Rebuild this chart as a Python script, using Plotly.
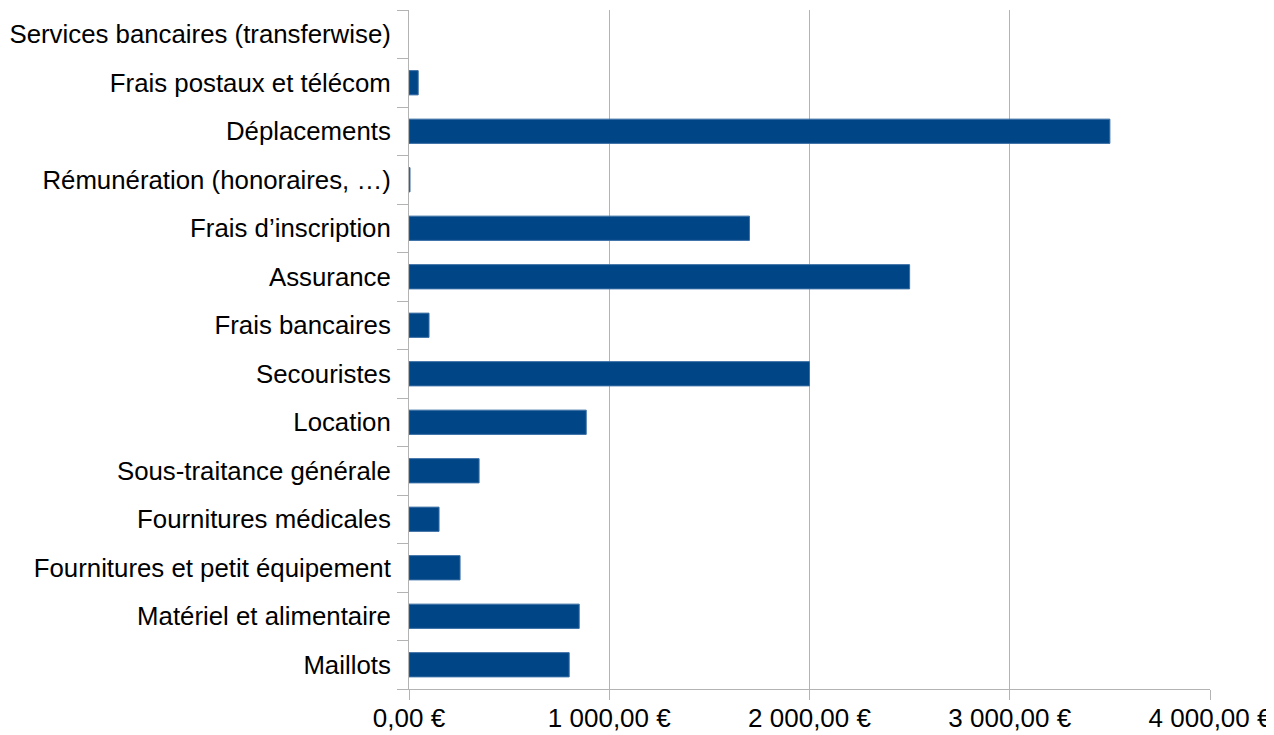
import plotly.graph_objects as go

categories = [
    "Maillots",
    "Matériel et alimentaire",
    "Fournitures et petit équipement",
    "Fournitures médicales",
    "Sous-traitance générale",
    "Location",
    "Secouristes",
    "Frais bancaires",
    "Assurance",
    "Frais d’inscription",
    "Rémunération (honoraires, …)",
    "Déplacements",
    "Frais postaux et télécom",
    "Services bancaires (transferwise)",
]
values = [800, 850, 255, 150, 350, 885, 2000, 100, 2500, 1700, 5, 3500, 46, 0]
x_ticks = [0, 1000, 2000, 3000, 4000]


def fmt_eur(v):
    s = f"{v:,.2f}".replace(",", " ").replace(".", ",")
    return s + " €"


x_ticktext = [fmt_eur(v) for v in x_ticks]
outline_widths = [1 if v > 0 else 0 for v in values]

fig = go.Figure(go.Bar(
    x=values,
    y=categories,
    orientation="h",
    marker=dict(color="#004586", line=dict(color="#3a6ea5", width=outline_widths)),
))

fig.update_layout(
    width=1266,
    height=727,
    margin=dict(l=401, r=64, t=2, b=46),
    plot_bgcolor="white",
    paper_bgcolor="white",
    bargap=0.5,
    showlegend=False,
    font=dict(family="Liberation Sans, Arial, sans-serif", size=26, color="#000000"),
)
fig.update_xaxes(
    range=[0, 4000],
    tickvals=x_ticks,
    ticktext=x_ticktext,
    showgrid=True,
    gridcolor="#b3b3b3",
    gridwidth=1,
    ticks="outside",
    ticklen=10,
    tickcolor="#b3b3b3",
    showline=True,
    linecolor="#b3b3b3",
    linewidth=1,
    zeroline=False,
    automargin=False,
    ticklabelstandoff=-4,
    tickfont=dict(size=26),
)
fig.update_yaxes(
    categoryorder="array",
    categoryarray=categories,
    showgrid=False,
    ticks="outside",
    tickson="boundaries",
    ticklen=11,
    tickcolor="#b3b3b3",
    showline=True,
    linecolor="#b3b3b3",
    linewidth=1,
    automargin=False,
    ticklabelstandoff=12,
    tickfont=dict(size=25.8),
    range=[-0.5, len(categories) - 0.5],
)

fig.write_html("out.html")
